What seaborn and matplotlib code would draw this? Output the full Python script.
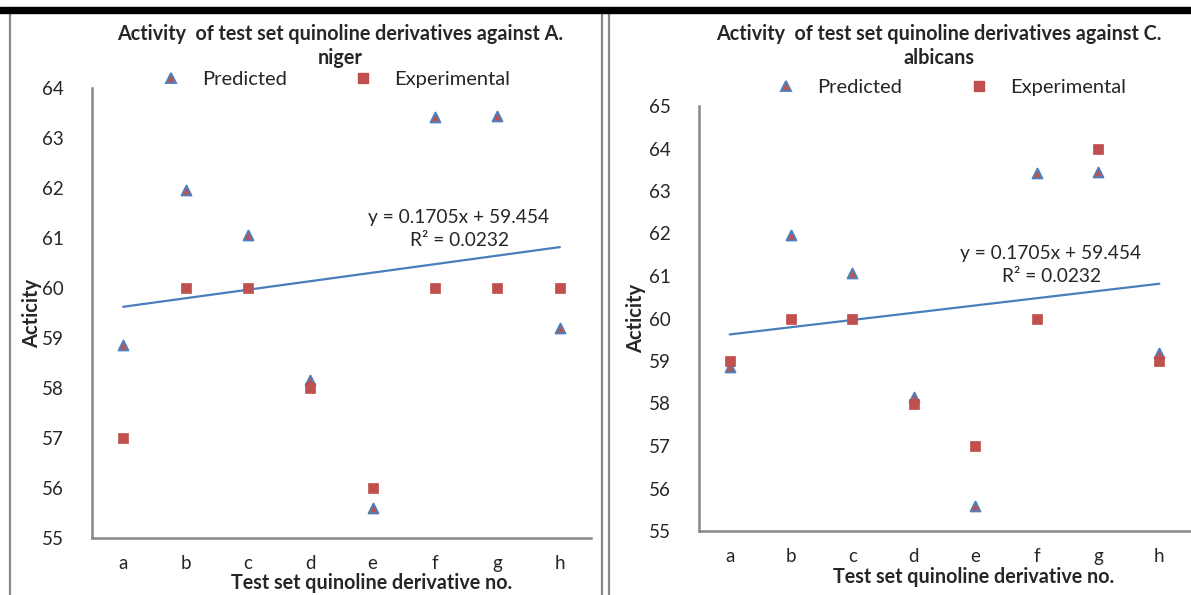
import numpy as np
import pandas as pd
import matplotlib
matplotlib.use("Agg")
import matplotlib.pyplot as plt
import seaborn as sns
from matplotlib.lines import Line2D

# Datos
categories = ['a', 'b', 'c', 'd', 'e', 'f', 'g', 'h']
predicted = [58.86, 61.96, 61.06, 58.16, 55.60, 63.43, 63.45, 59.20]
experimental_niger = [57, 60, 60, 58, 56, 60, 60, 60]
experimental_albicans = [59, 60, 60, 58, 57, 60, 64, 59]
trend_slope = 0.1705
trend_intercept = 59.454
trend_r2 = 0.0232

BLUE = '#4F81BD'
RED = '#C0504D'
GRAY = '#888888'
W, H = 1191, 595

sns.set_style("white")
plt.rcParams['font.family'] = ['Lato', 'DejaVu Sans']

fig = plt.figure(figsize=(W / 100, H / 100), dpi=100)


def px(x, y):
    # pixel -> fraccion de figura
    return x / W, 1 - y / H


def draw_panel(rect, experimental, ymin, ymax, legend_x, legend_y):
    ax = fig.add_axes(rect)
    pos = np.arange(1, len(categories) + 1)
    df = pd.DataFrame({'pos': pos, 'Predicted': predicted, 'Experimental': experimental,
                       'trend': trend_slope * pos + trend_intercept})

    sns.lineplot(data=df, x='pos', y='trend', color='#4A7EBB', linewidth=1.6, ax=ax, zorder=2)
    sns.scatterplot(data=df, x='pos', y='Predicted', marker='^', s=50, color=RED,
                    edgecolor=BLUE, linewidth=1.4, ax=ax, zorder=3)
    sns.scatterplot(data=df, x='pos', y='Experimental', marker='s', s=55, color=RED,
                    edgecolor=RED, linewidth=0.5, ax=ax, zorder=4)

    ax.set_xlim(0.5, 8.5)
    ax.set_ylim(ymin, ymax)
    ax.set_xticks(pos)
    ax.set_xticklabels(categories)
    ax.set_xticks(np.arange(0.5, 9, 1), minor=True)
    ax.set_yticks(np.arange(ymin, ymax + 1, 1))
    ax.set_xlabel('')
    ax.set_ylabel('')
    ax.tick_params(axis='x', which='major', length=0, pad=12, labelsize=13.5)
    ax.tick_params(axis='x', which='minor', direction='in', length=5, width=1.3, color=GRAY)
    ax.tick_params(axis='y', direction='in', length=5, width=1.3, color=GRAY, pad=20, labelsize=13.5)
    for s in ['top', 'right']:
        ax.spines[s].set_visible(False)
    for s in ['left', 'bottom']:
        ax.spines[s].set_color(GRAY)
        ax.spines[s].set_linewidth(1.8)

    handles = [Line2D([], [], marker='^', linestyle='', markersize=6.5, markerfacecolor=RED,
                      markeredgecolor=BLUE, markeredgewidth=1.4),
               Line2D([], [], marker='s', linestyle='', markersize=6.5, markerfacecolor=RED,
                      markeredgecolor=RED)]
    ax.legend(handles, ['Predicted', 'Experimental'], loc='center', ncol=2, frameon=False,
              bbox_to_anchor=(legend_x, legend_y), fontsize=14.5, handletextpad=1.05,
              columnspacing=3.3, handlelength=1.0)
    return ax


# Panel izquierdo (A. niger)
x0, y0 = px(92, 538)
x1, y1 = px(591, 88)
draw_panel([x0, y0, x1 - x0, y1 - y0], experimental_niger, 55, 64, 0.488, 1 + 9 / 450)

# Panel derecho (C. albicans)
x0, y0 = px(699, 531)
x1, y1 = px(1190, 106)
draw_panel([x0, y0, x1 - x0, y1 - y0], experimental_albicans, 55, 65, 0.513, 1 + 19 / 425)

eq = f'y = {trend_slope}x + {trend_intercept}'
r2 = f'R² = {trend_r2}'

texts = [
    (340, 46.5, 'Activity  of test set quinoline derivatives against A.\nniger', 'bold', 0, 14.2),
    (939, 46.5, 'Activity  of test set quinoline derivatives against C.\nalbicans', 'bold', 0, 14.2),
    (372, 583, 'Test set quinoline derivative no.', 'bold', 0, 14.2),
    (974, 577, 'Test set quinoline derivative no.', 'bold', 0, 14.2),
    (32, 313, 'Acticity', 'bold', 90, 14.5),
    (636, 318, 'Acticity', 'bold', 90, 14.5),
    (459, 217, eq, 'normal', 0, 13.8),
    (459, 240, r2, 'normal', 0, 13.8),
    (1051, 253, eq, 'normal', 0, 13.8),
    (1051, 276, r2, 'normal', 0, 13.8),
]
for x, y, s, w, rot, fs in texts:
    fx, fy = px(x, y)
    fig.text(fx, fy, s, ha='center', va='center', fontsize=fs,
             fontweight=w, rotation=rot, linespacing=1.25)

# Marco: barra negra superior y lineas grises verticales
fig.add_artist(plt.Rectangle(px(0, 12.5), 1, 5.5 / H, transform=fig.transFigure,
                             color='black', zorder=10))
for xv in [9.5, 602, 609]:
    fx, _ = px(xv, 0)
    fig.add_artist(Line2D([fx, fx], [0, px(0, 13)[1]], transform=fig.transFigure,
                          color=GRAY, linewidth=1.6))

fig.savefig('out.png', dpi=100)
